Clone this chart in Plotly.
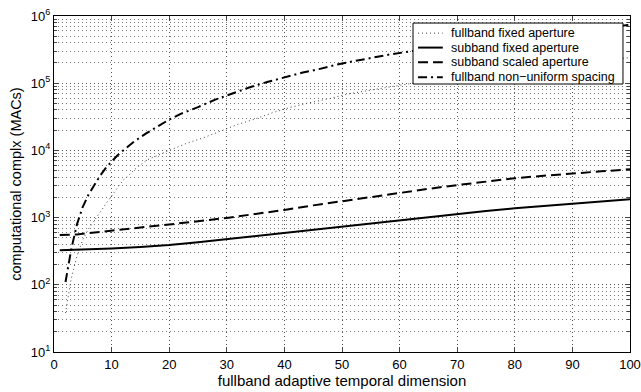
import plotly.graph_objects as go

# subband fixed aperture (solid)
x_sub_fixed = [1, 5, 10, 15, 20, 25, 30, 35, 40, 45, 50, 55, 60, 65, 70, 75, 80, 85, 90, 95, 100]
y_sub_fixed = [328, 335, 348, 365, 390, 428, 477, 530, 590, 660, 735, 820, 920, 1025, 1135, 1255, 1375, 1490, 1610, 1740, 1870]

# subband scaled aperture (dashed)
x_sub_scaled = [1, 2, 3, 4, 5, 7, 10, 15, 20, 25, 30, 35, 40, 45, 50, 55, 60, 65, 70, 75, 80, 85, 90, 95, 100]
y_sub_scaled = [550, 550, 552, 562, 575, 600, 635, 700, 785, 880, 990, 1130, 1300, 1520, 1760, 2020, 2300, 2680, 3050, 3450, 3850, 4200, 4570, 4880, 5250]

# fullband non-uniform spacing (dash-dot)
x_full_nonuni = [2, 3, 4, 5, 6, 7, 8, 9, 10, 11, 12, 13, 14, 16, 18, 20, 22, 25, 28, 31, 34, 37, 40, 43, 46, 49, 52, 55, 58, 61, 64, 70, 80, 90, 100]
y_full_nonuni = [110, 340, 800, 1450, 2200, 3100, 4200, 5500, 6900, 8400, 10000, 11800, 13700, 17900, 22800, 28800, 35000, 44000, 57000, 71000, 87000, 104000, 121000, 143000, 162000, 188000, 212000, 238000, 265000, 290000, 318000, 380000, 490000, 610000, 740000]

# fullband fixed aperture (dotted)
x_full_fixed = [2, 3, 4, 5, 6, 7, 8, 9, 10, 11, 12, 13, 14, 16, 18, 20, 23, 26, 29, 32, 35, 38, 41, 44, 48, 51, 55, 58, 62, 70, 80, 90, 100]
y_full_fixed = [38, 125, 270, 470, 680, 920, 1200, 1600, 2100, 2800, 3600, 4300, 5200, 7100, 8500, 10000, 12700, 15500, 19500, 24500, 29500, 36500, 43600, 50500, 59500, 69000, 79000, 87500, 99000, 125000, 160000, 200000, 240000]

series_names = ["fullband fixed aperture", "subband fixed aperture",
                "subband scaled aperture", "fullband non\u2212uniform spacing"]

x_ticks = [0, 10, 20, 30, 40, 50, 60, 70, 80, 90, 100]
y_tickvals = [10, 100, 1000, 10000, 100000, 1000000]
y_ticktext = ["10<sup>1</sup>", "10<sup>2</sup>", "10<sup>3</sup>", "10<sup>4</sup>", "10<sup>5</sup>", "10<sup>6</sup>"]
y_minor = [m * 10 ** e for e in range(1, 6) for m in range(2, 10)]

FONT = "Liberation Sans, Arial, Helvetica, sans-serif"

styles = [
    dict(color="#444444", width=1, dash="1px,3px"),
    dict(color="black", width=2),
    dict(color="black", width=2, dash="10px,5px"),
    dict(color="black", width=2, dash="9px,4px,2px,4px"),
]
data = [(x_full_fixed, y_full_fixed), (x_sub_fixed, y_sub_fixed),
        (x_sub_scaled, y_sub_scaled), (x_full_nonuni, y_full_nonuni)]

fig = go.Figure()
for (xs, ys), name, st in zip(data, series_names, styles):
    fig.add_trace(go.Scatter(x=xs, y=ys, mode="lines", name=name, line=st,
                             showlegend=False))

# compact legend box (drawn in paper coordinates)
lg_x0, lg_x1, lg_y0, lg_y1 = 0.6233, 0.9878, 0.7976, 0.979
row_y = [0.949, 0.906, 0.862, 0.818]
shapes = [dict(type="rect", xref="paper", yref="paper", x0=lg_x0, x1=lg_x1,
               y0=lg_y0, y1=lg_y1, fillcolor="white",
               line=dict(color="black", width=1), layer="above")]
annotations = []
for ry, name, st in zip(row_y, series_names, styles):
    shapes.append(dict(type="line", xref="paper", yref="paper",
                       x0=0.632, x1=0.675, y0=ry, y1=ry, line=st, layer="above"))
    annotations.append(dict(xref="paper", yref="paper", x=0.686, y=ry,
                            xanchor="left", yanchor="middle", text=name,
                            showarrow=False,
                            font=dict(family=FONT, size=12.5, color="black")))

fig.update_layout(
    width=641, height=392,
    margin=dict(l=54, r=11, t=16, b=40),
    paper_bgcolor="white", plot_bgcolor="white",
    font=dict(family=FONT, size=13, color="black"),
    showlegend=False,
    shapes=shapes, annotations=annotations,
)

fig.update_xaxes(
    range=[0, 100], tickvals=x_ticks, ticks="inside", ticklen=5,
    showline=True, linecolor="black", linewidth=1, mirror="ticks",
    showgrid=True, gridcolor="#555555", gridwidth=1, griddash="1px,3px",
    zeroline=False, tickfont=dict(size=13), automargin=False,
    title=dict(text="fullband adaptive temporal dimension", font=dict(size=15), standoff=3),
)
fig.update_yaxes(
    type="log", range=[1, 6], tickvals=y_tickvals, ticktext=y_ticktext,
    ticks="inside", ticklen=5,
    showline=True, linecolor="black", linewidth=1, mirror="ticks",
    showgrid=True, gridcolor="#555555", gridwidth=1, griddash="1px,3px",
    zeroline=False, tickfont=dict(size=13), automargin=False,
    minor=dict(tickvals=y_minor, ticks="inside", ticklen=3, showgrid=True,
               gridcolor="#777777", gridwidth=1, griddash="1px,3px"),
    title=dict(text="computational complx (MACs)", font=dict(size=14.5), standoff=5),
)

fig.write_html("out.html")
